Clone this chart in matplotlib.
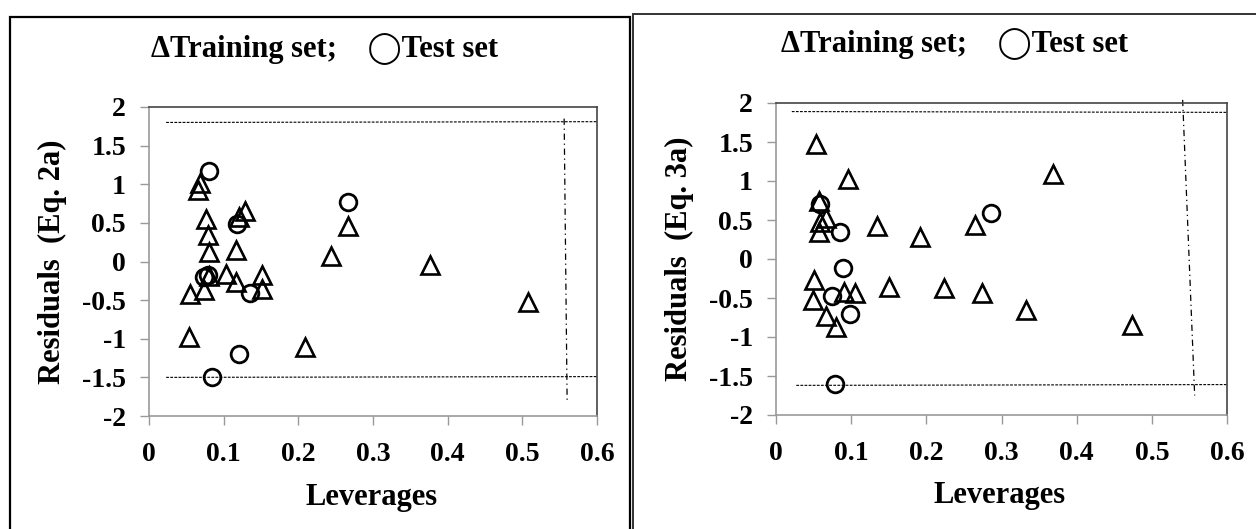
import matplotlib.pyplot as plt
import matplotlib.patches as mpatches

plt.rcParams['font.family'] = ['Liberation Serif', 'DejaVu Sans']
plt.rcParams['font.weight'] = 'bold'

# Eq. 2a  - training set
train_lev_2a = [0.068, 0.066, 0.077, 0.079, 0.081, 0.116, 0.121, 0.129,
                0.055, 0.073, 0.080, 0.103, 0.116, 0.151, 0.151,
                0.053, 0.209, 0.244, 0.266, 0.376, 0.507]
train_res_2a = [1.02, 0.93, 0.55, 0.34, 0.12, 0.15, 0.57, 0.66,
                -0.42, -0.37, -0.19, -0.16, -0.26, -0.18, -0.35,
                -0.98, -1.11, 0.07, 0.46, -0.04, -0.52]
# Eq. 2a  - test set
test_lev_2a = [0.080, 0.266, 0.118, 0.074, 0.079, 0.135, 0.121, 0.085]
test_res_2a = [1.17, 0.77, 0.48, -0.20, -0.18, -0.41, -1.20, -1.50]

# Eq. 3a  - training set
train_lev_3a = [0.053, 0.096, 0.369, 0.057, 0.058, 0.067, 0.057, 0.135,
                0.191, 0.265, 0.051, 0.049, 0.067, 0.080, 0.091, 0.105,
                0.150, 0.223, 0.274, 0.333, 0.473]
train_res_3a = [1.48, 1.03, 1.09, 0.74, 0.48, 0.52, 0.34, 0.42,
                0.28, 0.43, -0.27, -0.53, -0.73, -0.87, -0.42, -0.44,
                -0.36, -0.37, -0.44, -0.66, -0.84]
# Eq. 3a  - test set
test_lev_3a = [0.059, 0.085, 0.286, 0.089, 0.074, 0.099, 0.078]
test_res_3a = [0.71, 0.35, 0.59, -0.11, -0.47, -0.71, -1.60]

# limits: residual bands and warning leverage
upper_x_2a, upper_y_2a = [0.023, 0.6], [1.80, 1.81]
lower_x_2a, lower_y_2a = [0.023, 0.6], [-1.50, -1.49]
warn_x_2a, warn_y_2a = [0.556, 0.560], [1.85, -1.83]

upper_x_3a, upper_y_3a = [0.021, 0.6], [1.89, 1.88]
lower_x_3a, lower_y_3a = [0.027, 0.6], [-1.62, -1.61]
warn_x_3a, warn_y_3a = [0.541, 0.557], [2.04, -1.75]

x_ticks = [0, 0.1, 0.2, 0.3, 0.4, 0.5, 0.6]
y_ticks = [-2, -1.5, -1, -0.5, 0, 0.5, 1, 1.5, 2]

W, H = 1256, 529
fig = plt.figure(figsize=(W / 100, H / 100), dpi=100)

# panel frames
fig.patches.append(mpatches.Rectangle((10 / W, -0.05), 620 / W, 1.05 - 17 / H,
                                      transform=fig.transFigure, fill=False,
                                      edgecolor='black', linewidth=1.6))
fig.patches.append(mpatches.Rectangle((633 / W, -0.05), 640 / W, 1.05 - 14 / H,
                                      transform=fig.transFigure, fill=False,
                                      edgecolor='#333333', linewidth=1.4))


def make_panel(box, tr_x, tr_y, te_x, te_y, up, lo, warn, ylab, title_xy, xlab_xy, ylab_x):
    l, t, r, b = box
    ax = fig.add_axes([l / W, 1 - b / H, (r - l) / W, (b - t) / H])
    ax.plot(tr_x, tr_y, linestyle='none', marker='^', markersize=13,
            markerfacecolor='none', markeredgecolor='black', markeredgewidth=1.9)
    ax.plot(te_x, te_y, linestyle='none', marker='o', markersize=12,
            markerfacecolor='none', markeredgecolor='black', markeredgewidth=2.0)
    ax.plot(up[0], up[1], color='black', linestyle=(0, (2.5, 1.2)), linewidth=0.8, clip_on=False)
    ax.plot(lo[0], lo[1], color='black', linestyle=(0, (2.5, 1.2)), linewidth=0.8, clip_on=False)
    ax.plot(warn[0], warn[1], color='black', linestyle=(0, (5, 3, 1, 3)), linewidth=0.9, clip_on=False)

    ax.set_xlim(0, 0.6)
    ax.set_ylim(-2, 2)
    ax.set_xticks(x_ticks)
    ax.set_xticklabels(['0', '0.1', '0.2', '0.3', '0.4', '0.5', '0.6'])
    ax.set_yticks(y_ticks)
    ax.set_yticklabels(['-2', '-1.5', '-1', '-0.5', '0', '0.5', '1', '1.5', '2'])
    ax.tick_params(direction='out', length=6.5, width=1, color='#999999',
                   labelsize=20)
    ax.tick_params(axis='x', pad=12)
    ax.tick_params(axis='y', pad=10)
    for s in ['left', 'bottom']:
        ax.spines[s].set_color('#999999')
        ax.spines[s].set_linewidth(1.2)
    for s in ['top', 'right']:
        ax.spines[s].set_color('#444444')
        ax.spines[s].set_linewidth(1.2)
    for lab in ax.get_xticklabels() + ax.get_yticklabels():
        lab.set_fontweight('bold')

    fig.text(title_xy[0] / W, 1 - title_xy[1] / H, '\u0394Training set;    \u25efTest set',
             ha='center', va='center', fontsize=22, fontweight='bold')
    fig.text(xlab_xy[0] / W, 1 - xlab_xy[1] / H, 'Leverages',
             ha='center', va='center', fontsize=22, fontweight='bold')
    fig.text(ylab_x / W, 1 - ((t + b) / 2) / H, ylab, rotation=90,
             ha='center', va='center', fontsize=22, fontweight='bold')
    return ax


make_panel((149, 107, 597, 416), train_lev_2a, train_res_2a, test_lev_2a, test_res_2a,
           (upper_x_2a, upper_y_2a), (lower_x_2a, lower_y_2a), (warn_x_2a, warn_y_2a),
           'Residuals  (Eq. 2a)', (325, 49), (372, 497), 52)
make_panel((776, 103, 1227, 415), train_lev_3a, train_res_3a, test_lev_3a, test_res_3a,
           (upper_x_3a, upper_y_3a), (lower_x_3a, lower_y_3a), (warn_x_3a, warn_y_3a),
           'Residuals  (Eq. 3a)', (955, 44), (1000, 495), 679)

fig.savefig('out.png', dpi=100)
